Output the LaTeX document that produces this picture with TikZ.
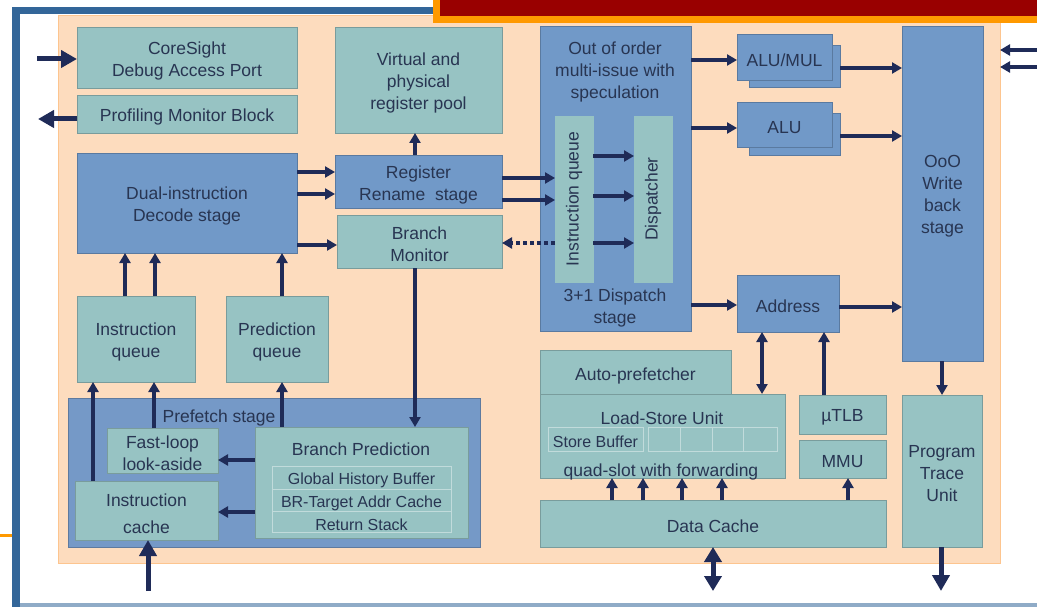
\documentclass[tikz,border=0pt]{standalone}
\usepackage{fontspec}
\setmainfont{Liberation Sans}
\usetikzlibrary{arrows.meta}
\definecolor{peach}{HTML}{FDDCBE}
\definecolor{tealc}{HTML}{97C3C3}
\definecolor{bluec}{HTML}{7199C8}
\definecolor{pfc}{HTML}{7599C7}
\definecolor{txt}{HTML}{283552}
\definecolor{arrc}{HTML}{1F2B58}
\definecolor{framec}{HTML}{336699}
\definecolor{titlered}{HTML}{990000}
\definecolor{titleor}{HTML}{FF9900}
% #1 box style, #2 name, #3 x, #4 y, #5 width, #6 height, #7 extra text options, #8 text
\newcommand\bx[8]{%
  \node[#1, minimum width=#5pt, minimum height=#6pt] (#2) at (#3,#4) {};
  \node[lbl, #7] (#2-t) at (#2.center) {#8};}
\begin{document}
\begin{tikzpicture}[x=1pt,y=-1pt,
  box/.style={anchor=north west, inner sep=0pt, outer sep=0pt},
  tbox/.style={box, fill=tealc, draw=tealc!80!black, line width=0.6pt},
  bbox/.style={box, fill=bluec, draw=bluec!80!black, line width=0.6pt},
  cell/.style={box, fill=tealc, draw=tealc!60!white, line width=0.8pt},
  txtbase/.style={align=center, text=txt, font=\fontsize{17.5}{22}\selectfont, inner sep=0pt},
  lbl/.style={txtbase, yshift=-3pt},
  vlbl/.style={txtbase, rotate=90},
  small/.style={font=\fontsize{16}{19}\selectfont},
  arr/.style={draw=arrc, line width=3.5pt, -{Triangle[length=10pt,width=11pt]}},
  darr/.style={draw=arrc, line width=3.5pt, {Triangle[length=10pt,width=11pt]}-{Triangle[length=10pt,width=11pt]}},
  big/.style={draw=arrc, line width=5pt, -{Triangle[length=16pt,width=17pt]}},
  dbig/.style={draw=arrc, line width=5pt, {Triangle[length=15pt,width=17pt]}-{Triangle[length=15pt,width=17pt]}},
]
\useasboundingbox (0,0) rectangle (1037,607);
\fill[white] (0,0) rectangle (1037,607);
% slide frame
\fill[framec] (12,7) rectangle (20,607);
\fill[framec] (12,7) rectangle (433,14);
\fill[framec!55!white] (20,603) rectangle (1037,607);
\fill[titleor] (0,534) rectangle (12,536.5);
% peach panel
\fill[peach] (58,15) rectangle (1000,563);
\draw[peach!75!orange, line width=0.8pt] (58,15) rectangle (1000,563);
% title bar
\fill[titleor] (433,0) rectangle (1037,23);
\fill[titlered] (440,0) rectangle (1037,16);

% top-left blocks
\bx{tbox}{cs}{77}{27}{220}{61}{}{CoreSight\\Debug Access Port}
\bx{tbox}{pmb}{77}{95}{220}{38}{}{Profiling Monitor Block}
\bx{tbox}{vrp}{335}{27}{167}{106}{}{Virtual and\\physical\\register pool}
\bx{bbox}{dec}{77}{153}{220}{100}{}{Dual-instruction\\Decode stage}
\bx{bbox}{rr}{335}{155}{167}{53}{}{Register\\Rename\ \ stage}
\bx{tbox}{bm}{337}{215}{165}{53}{}{Branch\\Monitor}

% dispatch stage
\node[bbox, minimum width=151pt, minimum height=305pt] (ooo) at (540,26) {};
\node[lbl] (ooo-t) at (615,69) {Out of order\\multi-issue with\\speculation};
\node[lbl] (ooo-b) at (615,305) {3+1 Dispatch\\stage};
\node[tbox, minimum width=38pt, minimum height=166pt, draw=tealc] (iq) at (555,116) {};
\node[vlbl] (iq-t) at (iq.center) {Instruction queue};
\node[tbox, minimum width=38pt, minimum height=166pt, draw=tealc] (disp) at (634,116) {};
\node[vlbl] (disp-t) at (disp.center) {Dispatcher};

% execution units
\node[bbox, minimum width=91pt, minimum height=42pt] (alumulb) at (749,45) {};
\bx{bbox}{alumul}{737}{34}{95}{46}{}{ALU/MUL}
\node[bbox, minimum width=91pt, minimum height=42pt] (alub) at (749,113) {};
\bx{bbox}{alu}{737}{102}{95}{45}{}{ALU}
\bx{bbox}{wb}{902}{26}{81}{335}{}{OoO\\Write\\back\\stage}
\bx{bbox}{addr}{737}{275}{102}{57}{}{Address}

% load-store
\bx{tbox}{autop}{540}{350}{191}{45}{}{Auto-prefetcher}
\node[tbox, minimum width=245pt, minimum height=84pt] (lsu) at (540,394) {};
\node[lbl] (lsu-t) at (662,415) {Load-Store Unit};
\bx{cell}{sb}{548}{427}{95}{24}{small}{Store Buffer}
\node[cell, minimum width=32pt, minimum height=24pt] (sb1) at (648,427) {};
\node[cell, minimum width=32pt, minimum height=24pt] (sb2) at (680,427) {};
\node[cell, minimum width=31pt, minimum height=24pt] (sb3) at (712,427) {};
\node[cell, minimum width=34pt, minimum height=24pt] (sb4) at (743,427) {};
\node[lbl] (lsu-b) at (661,469) {quad-slot with forwarding};
\bx{tbox}{utlb}{799}{395}{87}{39}{}{µTLB}
\bx{tbox}{mmu}{799}{440}{87}{38}{}{MMU}
\bx{tbox}{dc}{540}{500}{346}{47}{}{Data Cache}
\bx{tbox}{ptu}{902}{395}{80}{152}{}{Program\\Trace\\Unit}

% left lower blocks
\bx{tbox}{liq}{77}{296}{118}{86}{}{Instruction\\queue}
\bx{tbox}{pq}{226}{296}{102}{86}{}{Prediction\\queue}
\node[box, fill=pfc, draw=pfc!80!black, line width=0.6pt, minimum width=412pt, minimum height=149pt] (pf) at (68,398) {};
\node[lbl] (pf-t) at (219,415) {Prefetch stage};
\bx{tbox}{fl}{107}{428}{111}{45}{}{Fast-loop\\look-aside}
\bx{tbox}{ic}{75}{481}{143}{59}{font=\fontsize{17.5}{27}\selectfont}{Instruction\\cache}
\node[tbox, minimum width=213pt, minimum height=111pt] (bp) at (255,427) {};
\node[lbl] (bp-t) at (361,446) {Branch Prediction};
\bx{cell}{ghb}{272}{466}{179}{23}{small}{Global History Buffer}
\bx{cell}{brt}{272}{489}{179}{22}{small}{BR-Target Addr Cache}
\bx{cell}{rs}{272}{511}{179}{21}{small}{Return Stack}

% free ends
\coordinate (csin) at (37,59);
\coordinate (pmbout) at (38,119);
\coordinate (r1a) at (1037,50);
\coordinate (r1b) at (1000,50);
\coordinate (r2a) at (1037,67);
\coordinate (r2b) at (1000,67);
\coordinate (icin) at (148,591);
\coordinate (dcio) at (713,591);
\coordinate (ptuout) at (941,591);

% connectors
\draw[big] (csin) -- (cs.west |- csin);
\draw[big] (pmb.west |- pmbout) -- (pmbout);
\draw[arr] (r1a) -- (r1b);
\draw[arr] (r2a) -- (r2b);

\draw[arr] (dec.east |- 0,172) -- (rr.west |- 0,172);
\draw[arr] (dec.east |- 0,194) -- (rr.west |- 0,194);
\draw[arr] (dec.east |- 0,245) -- (bm.west |- 0,245);
\draw[arr] (rr.north -| 415,0) -- (vrp.south -| 415,0);
\draw[arr] (rr.east |- 0,178) -- (iq.west |- 0,178);
\draw[arr] (rr.east |- 0,200) -- (iq.west |- 0,200);
\draw[arr, dash pattern=on 4pt off 3pt] (iq.west |- 0,243) -- (bm.east |- 0,243);
\draw[arr] (bm.south -| 415,0) -- (bp.north -| 415,0);

\draw[arr] (iq.east |- 0,156) -- (disp.west |- 0,156);
\draw[arr] (iq.east |- 0,196) -- (disp.west |- 0,196);
\draw[arr] (iq.east |- 0,243) -- (disp.west |- 0,243);

\draw[arr] (ooo.east |- 0,60) -- (alumul.west |- 0,60);
\draw[arr] (ooo.east |- 0,128) -- (alu.west |- 0,128);
\draw[arr] (ooo.east |- 0,305) -- (addr.west |- 0,305);
\draw[arr] (alumulb.east |- 0,68) -- (wb.west |- 0,68);
\draw[arr] (alub.east |- 0,136) -- (wb.west |- 0,136);
\draw[arr] (addr.east |- 0,307) -- (wb.west |- 0,307);

\draw[darr] (addr.south -| 762,0) -- (lsu.north -| 762,0);
\draw[arr] (utlb.north -| 824,0) -- (addr.south -| 824,0);
\draw[arr] (wb.south -| 942,0) -- (ptu.north -| 942,0);
\draw[arr] (dc.north -| 612,0) -- (lsu.south -| 612,0);
\draw[arr] (dc.north -| 643,0) -- (lsu.south -| 643,0);
\draw[arr] (dc.north -| 682,0) -- (lsu.south -| 682,0);
\draw[arr] (dc.north -| 722,0) -- (lsu.south -| 722,0);
\draw[arr] (dc.north -| 848,0) -- (mmu.south -| 848,0);
\draw[dbig] (dc.south -| dcio) -- (dcio);
\draw[big] (ptu.south -| ptuout) -- (ptuout);

\draw[arr] (liq.north -| 125,0) -- (dec.south -| 125,0);
\draw[arr] (liq.north -| 155,0) -- (dec.south -| 155,0);
\draw[arr] (pq.north -| 282,0) -- (dec.south -| 282,0);
\draw[arr] (ic.north -| 93,0) -- (liq.south -| 93,0);
\draw[arr] (fl.north -| 154,0) -- (liq.south -| 154,0);
\draw[arr] (bp.north -| 282,0) -- (pq.south -| 282,0);
\draw[arr] (bp.west |- 0,460) -- (fl.east |- 0,460);
\draw[arr] (bp.west |- 0,512) -- (ic.east |- 0,512);
\draw[big] (icin) -- (ic.south -| icin);
\end{tikzpicture}
\end{document}
